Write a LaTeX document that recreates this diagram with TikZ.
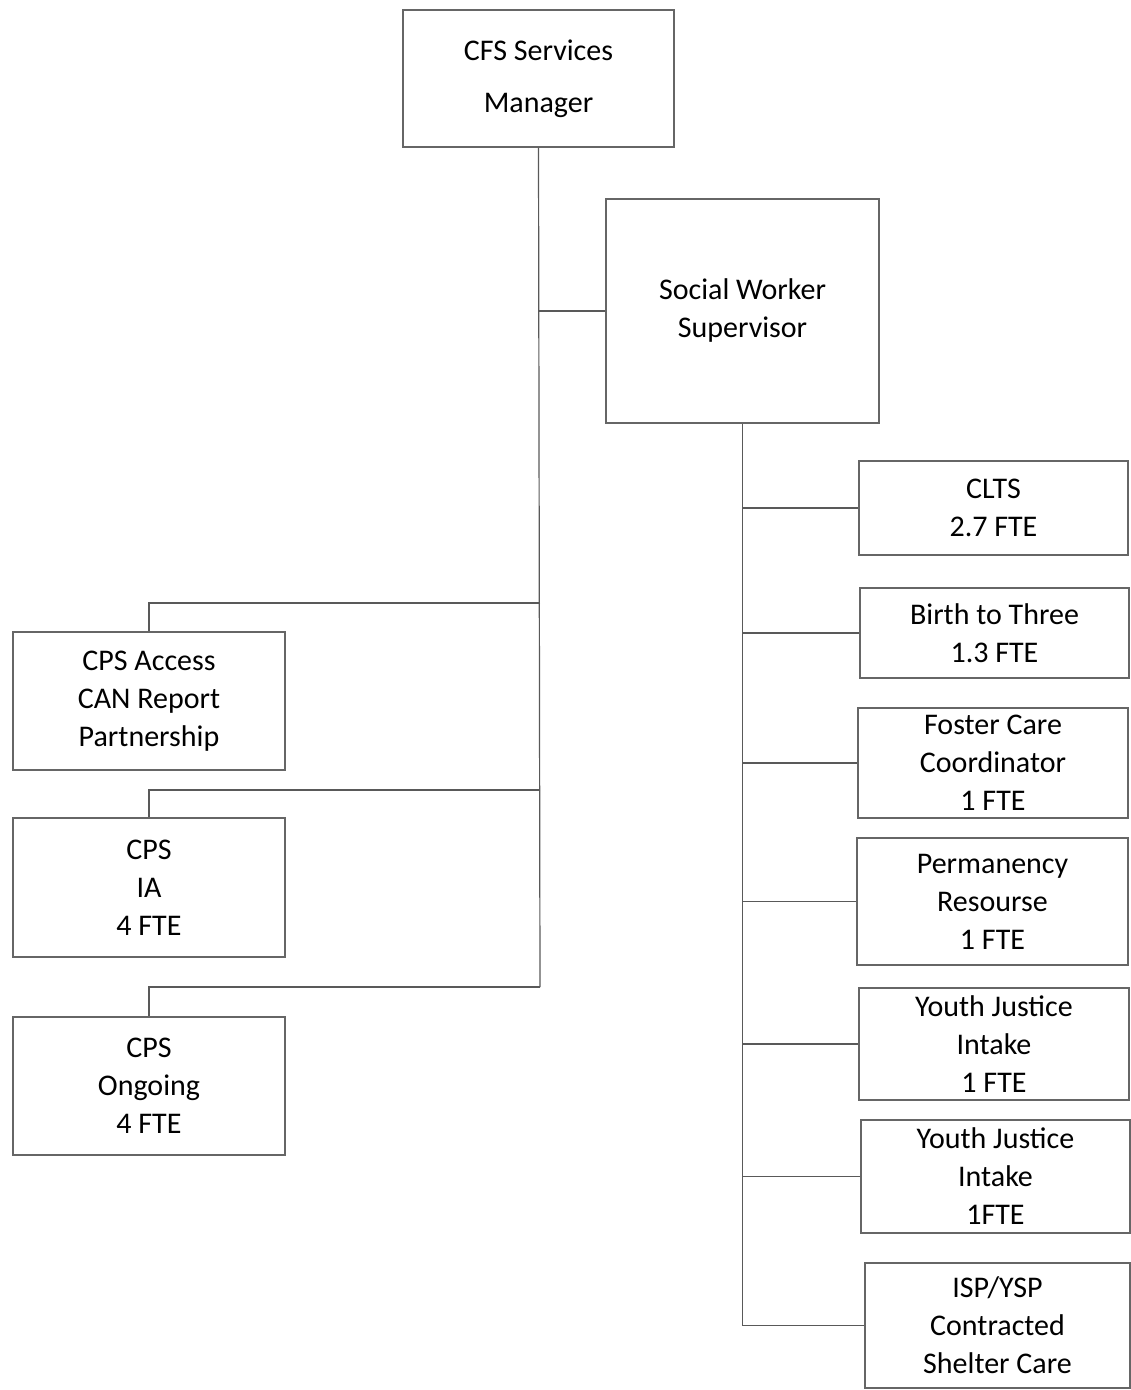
\documentclass[tikz,border=0pt]{standalone}
\usepackage{fontspec}
\setmainfont{Carlito}
\tikzset{
	orgbox/.style = {draw=black!60, line width=0.6pt, align=center,
		inner sep=0pt, font=\fontsize{15}{19}\selectfont},
	widebox/.style = {orgbox, minimum width=136pt},% left and right column
	link/.style = {draw=black!65, line width=0.6pt}
}
\begin{document}
\begin{tikzpicture}[x=0.5pt,y=-0.5pt]
	\useasboundingbox (0,0) rectangle (1130,1390);
	% top of the chart
	\node [orgbox, minimum width=135.5pt, minimum height=68.5pt] (mgr) at (538.5,78.5)
		{CFS Services\\[7pt]Manager};
	\node [orgbox, minimum width=136.5pt, minimum height=112pt] (sws) at (742.5,311)
		{Social Worker\\Supervisor};
	% left column
	\node [widebox, minimum height=69pt] (access) at (149,701)
		{CPS Access\\CAN Report\\Partnership};
	\node [widebox, minimum height=69.5pt] (ia) at (149,887.5)
		{CPS\\IA\\4 FTE};
	\node [widebox, minimum height=69pt] (ongoing) at (149,1086)
		{CPS\\Ongoing\\4 FTE};
	% right column
	\node [widebox, minimum width=134.5pt, minimum height=47pt] (clts) at (993.5,508)
		{CLTS\\2.7 FTE};
	\node [widebox, minimum width=134.5pt, minimum height=45pt] (btt) at (994.5,633)
		{Birth to Three\\1.3 FTE};
	\node [widebox, minimum width=135pt, minimum height=55pt] (foster) at (993,763)
		{Foster Care\\Coordinator\\1 FTE};
	\node [widebox, minimum width=135.5pt, minimum height=63.5pt] (perm) at (992.5,901.5)
		{Permanency\\Resourse\\1 FTE};
	\node [widebox, minimum width=135pt, minimum height=56pt] (yji) at (994,1044)
		{Youth Justice\\Intake\\1 FTE};
	\node [widebox, minimum width=134.5pt, minimum height=56.5pt] (yjii) at (995.5,1176.5)
		{Youth Justice\\Intake\\1FTE};
	\node [widebox, minimum width=132.5pt, minimum height=62.5pt] (isp) at (997.5,1325.5)
		{ISP/YSP\\Contracted\\Shelter Care};
	% junctions on the manager's line
	\coordinate (jaccess) at (540,603);
	\coordinate (jia) at (540,790);
	\coordinate (jongoing) at (540,987);
	% connectors
	\draw [link] (mgr.south) -- (jongoing);
	\draw [link] (mgr.south |- sws.west) -- (sws.west);
	\draw [link] (jaccess) -| (access.north);
	\draw [link] (jia) -| (ia.north);
	\draw [link] (jongoing) -| (ongoing.north);
	\draw [link] (sws.south) -- (sws.south |- isp.west);
	\foreach \n in {clts,btt,foster,perm,yji,yjii,isp}
		\draw [link] (sws.south |- \n.west) -- (\n.west);
\end{tikzpicture}
\end{document}
